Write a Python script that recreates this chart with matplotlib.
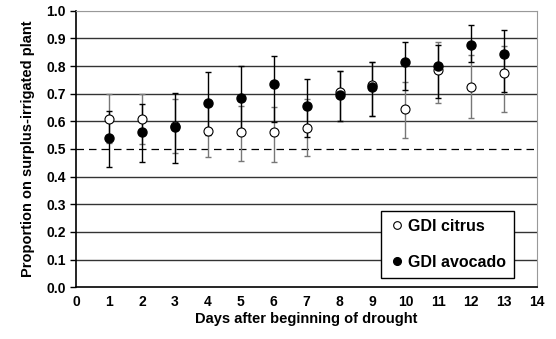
import numpy as np
import matplotlib.pyplot as plt

plt.rcParams['font.family'] = ['Liberation Sans', 'DejaVu Sans']

days = np.arange(1, 14)

citrus = [0.61, 0.61, 0.585, 0.565, 0.56, 0.56, 0.575, 0.705, 0.73, 0.645, 0.785, 0.725, 0.775]
citrus_lo = [0.523, 0.518, 0.485, 0.47, 0.457, 0.454, 0.475, 0.60, 0.62, 0.539, 0.666, 0.611, 0.635]
citrus_hi = [0.698, 0.70, 0.68, 0.66, 0.657, 0.653, 0.68, 0.784, 0.816, 0.744, 0.889, 0.84, 0.873]

avocado = [0.54, 0.56, 0.58, 0.665, 0.685, 0.735, 0.655, 0.695, 0.725, 0.815, 0.80, 0.875, 0.845]
avocado_lo = [0.434, 0.453, 0.448, 0.55, 0.57, 0.599, 0.545, 0.60, 0.62, 0.714, 0.684, 0.816, 0.708]
avocado_hi = [0.636, 0.662, 0.704, 0.78, 0.80, 0.838, 0.752, 0.784, 0.816, 0.889, 0.877, 0.947, 0.929]

fig = plt.figure(figsize=(5.56, 3.39), dpi=100)
ax = fig.add_axes([0.137, 0.153, 0.829, 0.815])

# gridlines
for yv in np.arange(0.1, 1.0, 0.1):
    if abs(yv - 0.5) < 1e-6:
        ax.axhline(yv, color='black', lw=0.9, ls=(0, (6, 4)), zorder=1)
    else:
        ax.axhline(yv, color='#333333', lw=1.0, zorder=1)
ax.axhline(1.0, color='#999999', lw=0.8, zorder=1)

c = np.array(citrus)
a = np.array(avocado)
ax.errorbar(days, c, yerr=[c - np.array(citrus_lo), np.array(citrus_hi) - c],
            fmt='none', ecolor='#777777', elinewidth=1.0, capsize=2.5, capthick=1.0, zorder=2)
ax.errorbar(days, a, yerr=[a - np.array(avocado_lo), np.array(avocado_hi) - a],
            fmt='none', ecolor='black', elinewidth=1.0, capsize=2.5, capthick=1.0, zorder=2)
ax.plot(days, citrus, 'o', mfc='white', mec='black', mew=0.8, ms=6.5, zorder=3, label='GDI citrus')
ax.plot(days, avocado, 'o', mfc='black', mec='black', ms=6.5, zorder=4, label='GDI avocado')

ax.set_xlim(0, 14)
ax.set_ylim(0, 1.0)
ax.set_xticks(range(0, 15))
ax.set_yticks(np.arange(0, 1.01, 0.1))
ax.set_yticklabels(['%.1f' % v for v in np.arange(0, 1.01, 0.1)])
ax.tick_params(axis='x', length=0, pad=6, labelsize=10)
ax.tick_params(axis='y', length=4, width=1, direction='out', labelsize=10)
for lab in ax.get_xticklabels() + ax.get_yticklabels():
    lab.set_fontweight('bold')

ax.spines['left'].set_linewidth(1.2)
ax.spines['bottom'].set_linewidth(1.2)
ax.spines['right'].set_color('#999999')
ax.spines['right'].set_linewidth(0.8)
ax.spines['top'].set_color('#999999')
ax.spines['top'].set_linewidth(0.8)

ax.set_xlabel('Days after beginning of drought', fontsize=10.5, fontweight='bold', labelpad=2)
ax.set_ylabel('Proportion on surplus-irrigated plant', fontsize=10.5, fontweight='bold', labelpad=8)

leg = ax.legend(loc='lower right', bbox_to_anchor=(0.967, 0.005), frameon=True, fancybox=False,
                edgecolor='black', framealpha=1, prop={'weight': 'bold', 'size': 11.5},
                handletextpad=0.2, markerscale=0.85, borderpad=0.5, labelspacing=1.3,
                handlelength=1.0)
leg.get_frame().set_linewidth(1.0)

fig.savefig('out.png', dpi=100)
